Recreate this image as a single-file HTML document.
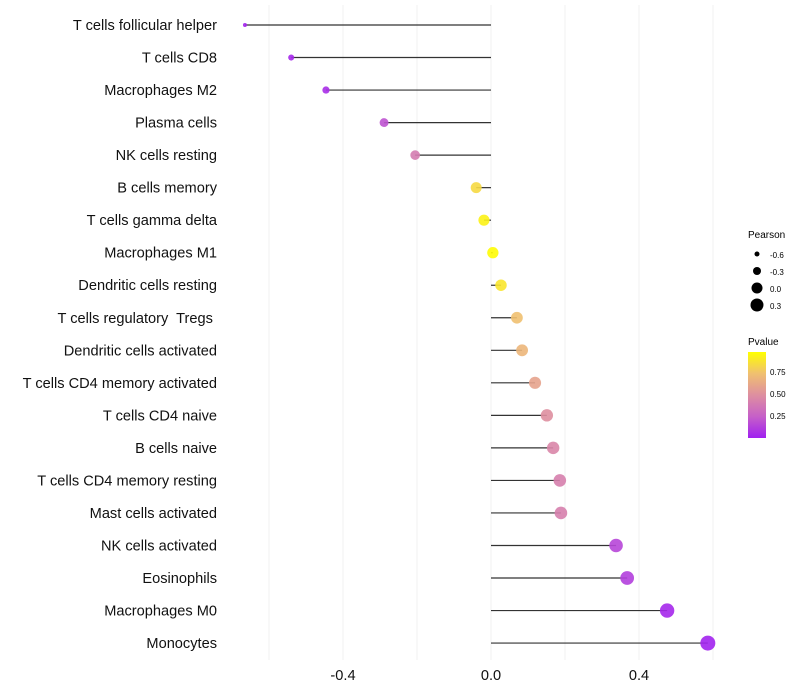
<!DOCTYPE html>
<html><head><meta charset="utf-8"><style>
body{margin:0;background:#fff}
svg{font-family:"Liberation Sans",sans-serif;display:block}
text{white-space:pre}
</style></head><body>
<svg id="c" width="800" height="700">
<defs><linearGradient id="pg" x1="0" y1="1" x2="0" y2="0">
<stop offset="0" stop-color="#A020F0"/><stop offset="0.25" stop-color="#C660C8"/><stop offset="0.5" stop-color="#DE8FA0"/><stop offset="0.75" stop-color="#F0C070"/><stop offset="1" stop-color="#FFFF00"/></linearGradient></defs>
<g id="grid"></g><g id="marks"></g><g id="ylab"></g><g id="xlab"></g>
<g>
<text x="748" y="238" font-size="10">Pearson</text>
<circle cx="757" cy="254" r="2.5"/><text x="770" y="258" font-size="8">-0.6</text>
<circle cx="757" cy="271" r="4"/><text x="770" y="275" font-size="8">-0.3</text>
<circle cx="757" cy="288" r="5.5"/><text x="770" y="292" font-size="8">0.0</text>
<circle cx="757" cy="305" r="6.5"/><text x="770" y="309" font-size="8">0.3</text>
</g>
<g>
<text x="748" y="345" font-size="10">Pvalue</text>
<rect x="748" y="352" width="18" height="86" fill="url(#pg)"/>
<text x="770" y="375" font-size="8">0.75</text>
<text x="770" y="397" font-size="8">0.50</text>
<text x="770" y="419" font-size="8">0.25</text>
</g>
</svg>
<script>
const cells=["T cells follicular helper","T cells CD8","Macrophages M2","Plasma cells","NK cells resting","B cells memory","T cells gamma delta","Macrophages M1","Dendritic cells resting","T cells regulatory  Tregs ","Dendritic cells activated","T cells CD4 memory activated","T cells CD4 naive","B cells naive","T cells CD4 memory resting","Mast cells activated","NK cells activated","Eosinophils","Macrophages M0","Monocytes"];
const pearson=[-0.665,-0.54,-0.446,-0.289,-0.205,-0.04,-0.019,0.005,0.027,0.07,0.084,0.119,0.151,0.168,0.186,0.189,0.338,0.368,0.476,0.586];
const pvalue=[0.02,0.03,0.05,0.2,0.4,0.85,0.95,0.99,0.9,0.75,0.7,0.6,0.5,0.45,0.42,0.42,0.15,0.12,0.03,0.01];
const xTicks=[-0.4,0.0,0.4];
const gridVals=[-0.6,-0.4,-0.2,0,0.2,0.4,0.6];
const NS="http://www.w3.org/2000/svg";
const x=v=>491+v*370;
const y=i=>25+i*32.53;
const stops=[[0,[160,32,240]],[0.25,[198,96,200]],[0.5,[222,143,160]],[0.75,[240,192,112]],[1,[255,255,0]]];
function col(p){for(let k=1;k<stops.length;k++){if(p<=stops[k][0]){const a=stops[k-1],b=stops[k],t=(p-a[0])/(b[0]-a[0]);return "rgb("+a[1].map((c,j)=>Math.round(c+(b[1][j]-c)*t)).join(",")+")";}}return "rgb(255,255,0)";}
const rad=v=>Math.sqrt(Math.max(4,31.8+41.8*v));
function mk(t,a,par){const e=document.createElementNS(NS,t);for(const k in a)e.setAttribute(k,a[k]);document.getElementById(par).appendChild(e);return e;}
gridVals.forEach(v=>{const l=mk("line",{x1:x(v),x2:x(v),y1:5,y2:660,stroke:"#f0f0f0","stroke-width":1},"grid");

});
cells.forEach((c,i)=>{
const s=mk("line",{x1:x(0),x2:x(pearson[i]),y1:y(i),y2:y(i),stroke:"#333","stroke-width":1.2},"marks");


const d=mk("circle",{cx:x(pearson[i]),cy:y(i),r:rad(pearson[i]),fill:col(pvalue[i]),"fill-opacity":0.9},"marks");


const t=mk("text",{x:217,y:y(i)+5,"text-anchor":"end","font-size":14.6,fill:"#111"},"ylab");


t.textContent=c;});
xTicks.forEach(v=>{const t=mk("text",{x:x(v),y:680,"text-anchor":"middle","font-size":14.6,fill:"#111"},"xlab");


t.textContent=v.toFixed(1);});
</script>
</body></html>
